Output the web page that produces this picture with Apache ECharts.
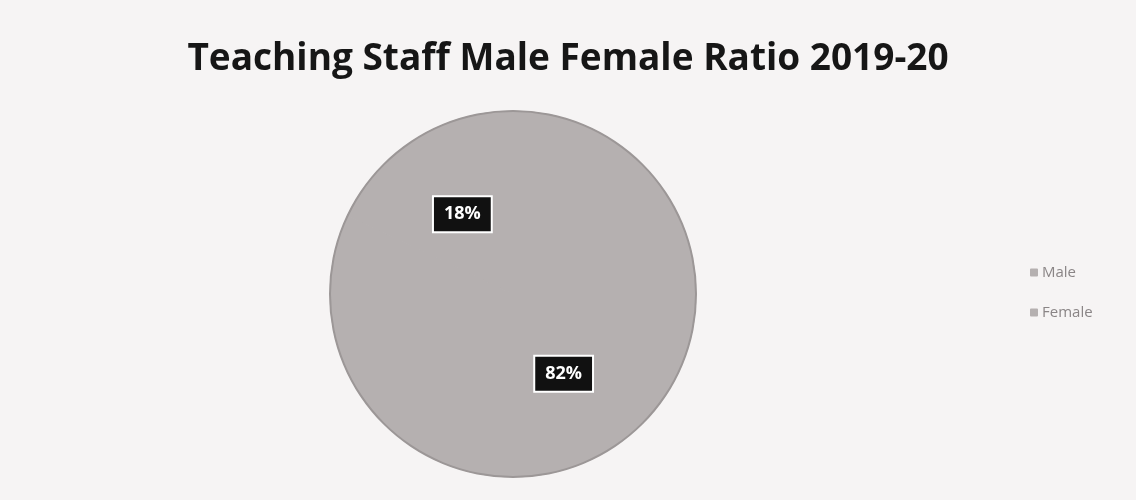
<!DOCTYPE html>
<html><head><meta charset="utf-8">
<script src="https://cdn.jsdelivr.net/npm/echarts@6/dist/echarts.min.js"></script>
<style>html,body{margin:0;padding:0;background:#f6f4f4;}#c{width:1136px;height:500px;}</style>
</head><body><div id="c"></div>
<script>
const categories = ['Male', 'Female'];
const values = [18, 82];
const titleText = 'Teaching Staff Male Female Ratio 2019-20';

const chart = echarts.init(document.getElementById('c'));
chart.setOption({
  backgroundColor: '#f6f4f4',
  animation: false,
  title: {
    text: titleText, left: 'center', top: 36,
    textStyle: { fontFamily: 'Open Sans', fontWeight: 'bold', fontSize: 37, color: '#161616' }
  },
  legend: {
    orient: 'vertical', left: 1025, top: 260, itemGap: 25,
    itemWidth: 6, itemHeight: 6, icon: 'rect',
    textStyle: { fontFamily: 'Open Sans', fontSize: 15, color: '#8a8586' },
    data: categories
  },
  series: [{
    type: 'pie', center: [513, 294], radius: 183,
    startAngle: 90, clockwise: false,
    itemStyle: { color: '#b5b0b0', borderColor: '#b5b0b0', borderWidth: 1 },
    emphasis: { disabled: true },
    label: {
      show: true, position: 'inside',
      formatter: p => p.value + '%',
      fontFamily: 'Open Sans', fontWeight: 'bold', fontSize: 18, color: '#ffffff',
      backgroundColor: '#111', padding: [9, 10, 7, 10],
      borderColor: '#fff', borderWidth: 2
    },
    labelLine: { show: false },
    data: categories.map((c, i) => ({ name: c, value: values[i] }))
  }, {
    type: 'pie', center: [513, 294], radius: [182, 184], silent: true,
    label: { show: false }, labelLine: { show: false },
    itemStyle: { color: '#9c9797' },
    data: [{ name: 'outline', value: 1 }],
    legendHoverLink: false
  }]
});
</script></body></html>
